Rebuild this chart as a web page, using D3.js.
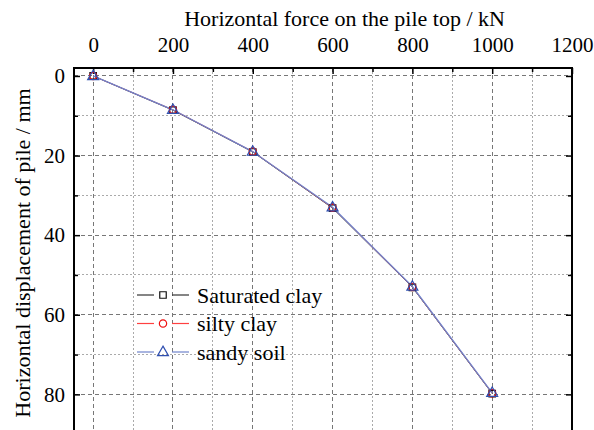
<!DOCTYPE html>
<html>
<head>
<meta charset="utf-8">
<script src="https://cdn.jsdelivr.net/npm/d3@7/dist/d3.min.js"></script>
<style>
  html, body { margin: 0; padding: 0; background: #fff; }
  svg { display: block; }
  svg text { font-family: "Liberation Serif", Tinos, "Times New Roman", "DejaVu Serif", serif; }
</style>
</head>
<body>
<svg id="chart" width="594" height="430"></svg>
<script>
// Horizontal load at the pile top (kN)
const forces = [0, 200, 400, 600, 800, 1000];
// Horizontal displacement of the pile (mm) for each soil type
const saturatedClay = [0, 8.6, 19.1, 33.2, 53.1, 79.8];
const siltyClay     = [0, 8.5, 19.0, 33.1, 53.0, 79.7];
const sandySoil     = [0, 8.5, 19.0, 33.0, 52.9, 79.6];
const seriesNames = ["Saturated clay", "silty clay", "sandy soil"];
const xTicks = [0, 200, 400, 600, 800, 1000, 1200];
const yTicks = [0, 20, 40, 60, 80];

const svg = d3.select("#chart");
const plotLeft = 74, plotRight = 572, plotTop = 68;

const x = d3.scaleLinear().domain([-48, 1200]).range([plotLeft, plotRight]);
const y = d3.scaleLinear().domain([-2, 90]).range([plotTop, plotTop + 92 * 3.98]);
const plotBottom = y.range()[1];

// Grid: major dashed, minor dotted
const g = svg.append("g");
const xMinor = d3.range(100, 1200, 200);
const yMinor = d3.range(10, 90, 20);
g.selectAll(".vmin").data(xMinor).join("line")
  .attr("x1", d => x(d)).attr("x2", d => x(d)).attr("y1", plotTop).attr("y2", plotBottom)
  .attr("stroke", "#aaa").attr("stroke-width", 1).attr("stroke-dasharray", "2,2").attr("shape-rendering", "crispEdges");
g.selectAll(".hmin").data(yMinor).join("line")
  .attr("y1", d => y(d)).attr("y2", d => y(d)).attr("x1", plotLeft).attr("x2", plotRight)
  .attr("stroke", "#aaa").attr("stroke-width", 1).attr("stroke-dasharray", "2,2").attr("shape-rendering", "crispEdges");
g.selectAll(".vmaj").data(xTicks.filter(d => d < 1200)).join("line")
  .attr("x1", d => x(d)).attr("x2", d => x(d)).attr("y1", plotTop).attr("y2", plotBottom)
  .attr("stroke", "#777").attr("stroke-width", 1).attr("stroke-dasharray", "4,3").attr("shape-rendering", "crispEdges");
g.selectAll(".hmaj").data(yTicks).join("line")
  .attr("y1", d => y(d)).attr("y2", d => y(d)).attr("x1", plotLeft).attr("x2", plotRight)
  .attr("stroke", "#777").attr("stroke-width", 1).attr("stroke-dasharray", "4,3").attr("shape-rendering", "crispEdges");

// Frame (top, left, right)
svg.append("path")
  .attr("d", `M${plotLeft},${plotBottom}V${plotTop}H${plotRight}V${plotBottom}`)
  .attr("fill", "none").attr("stroke", "#000").attr("stroke-width", 1.5).attr("shape-rendering", "crispEdges");

// Axes with inward ticks
const tickStyle = sel => {
  sel.attr("font-family", null).attr("font-size", null);
  sel.select(".domain").remove();
  sel.selectAll(".tick line").attr("stroke", "#000").attr("stroke-width", 1.5);
  sel.selectAll("text").attr("font-size", 21).attr("fill", "#000");
};
const fmt = d3.format("d");
svg.append("g").attr("transform", `translate(0,${plotTop})`)
  .call(d3.axisTop(x).tickValues(xTicks).tickFormat(fmt).tickSizeInner(-6).tickSizeOuter(0).tickPadding(16))
  .call(tickStyle);
svg.append("g").attr("transform", `translate(0,${plotTop})`)
  .call(d3.axisTop(x).tickValues(xMinor).tickSize(-4).tickFormat(""))
  .call(tickStyle);
svg.append("g").attr("transform", `translate(${plotLeft},0)`)
  .call(d3.axisLeft(y).tickValues(yTicks).tickFormat(fmt).tickSizeInner(-6).tickSizeOuter(0).tickPadding(9))
  .call(tickStyle);
svg.append("g").attr("transform", `translate(${plotLeft},0)`)
  .call(d3.axisLeft(y).tickValues(yMinor).tickSize(-4).tickFormat(""))
  .call(tickStyle);
svg.append("g").attr("transform", `translate(${plotRight},0)`)
  .call(d3.axisRight(y).tickValues(yTicks).tickSize(-6).tickFormat(""))
  .call(tickStyle);
svg.append("g").attr("transform", `translate(${plotRight},0)`)
  .call(d3.axisRight(y).tickValues(yMinor).tickSize(-4).tickFormat(""))
  .call(tickStyle);

// Axis titles
svg.append("text").attr("x", (x(0) + x(1200)) / 2 + 12).attr("y", 26)
  .attr("text-anchor", "middle").attr("font-size", 22).text("Horizontal force on the pile top / kN");
svg.append("text").attr("transform", `translate(30,${253}) rotate(-90)`)
  .attr("text-anchor", "middle").attr("font-size", 22).text("Horizontal displacement of pile / mm");

// Series
const series = [
  { name: seriesNames[0], values: saturatedClay, line: "#333", mark: "#111", shape: "square" },
  { name: seriesNames[1], values: siltyClay, line: "#ff4040", mark: "#ee1111", shape: "circle" },
  { name: seriesNames[2], values: sandySoil, line: "#6f84cc", mark: "#2f4fb0", shape: "triangle" }
];
const lineGen = d3.line().x((d, i) => x(forces[i])).y(d => y(d));
const symbolFor = s => s.shape === "square" ? d3.symbol(d3.symbolSquare, 42)
  : s.shape === "circle" ? d3.symbol(d3.symbolCircle, 42) : d3.symbol(d3.symbolTriangle, 52);

series.forEach((s, k) => {
  svg.append("path").datum(s.values).attr("d", lineGen)
    .attr("fill", "none").attr("stroke", s.line).attr("stroke-width", k === 2 ? 1.3 : 1);
});
series.forEach(s => {
  svg.append("g").selectAll("path").data(s.values).join("path")
    .attr("transform", (d, i) => `translate(${x(forces[i])},${y(d) + (s.shape === "triangle" ? 0.5 : 0)})`)
    .attr("d", symbolFor(s)())
    .attr("fill", "none").attr("stroke", s.mark).attr("stroke-width", 1.2);
});

// Legend
const legend = svg.append("g");
series.forEach((s, i) => {
  const ly = 295 + i * 28.5;
  const row = legend.append("g").attr("transform", `translate(0,${ly})`);
  row.append("line").attr("x1", 137).attr("x2", 154).attr("y1", 0).attr("y2", 0).attr("stroke", s.line).attr("stroke-width", 1.2);
  row.append("line").attr("x1", 172).attr("x2", 189).attr("y1", 0).attr("y2", 0).attr("stroke", s.line).attr("stroke-width", 1.2);
  row.append("path").attr("transform", `translate(163,${s.shape === "triangle" ? 0.5 : 0})`)
    .attr("d", symbolFor(s)()).attr("fill", "none").attr("stroke", s.mark).attr("stroke-width", 1.2);
  row.append("text").attr("x", 197).attr("y", 7.5).attr("font-size", 22).text(s.name);
});
</script>
</body>
</html>
